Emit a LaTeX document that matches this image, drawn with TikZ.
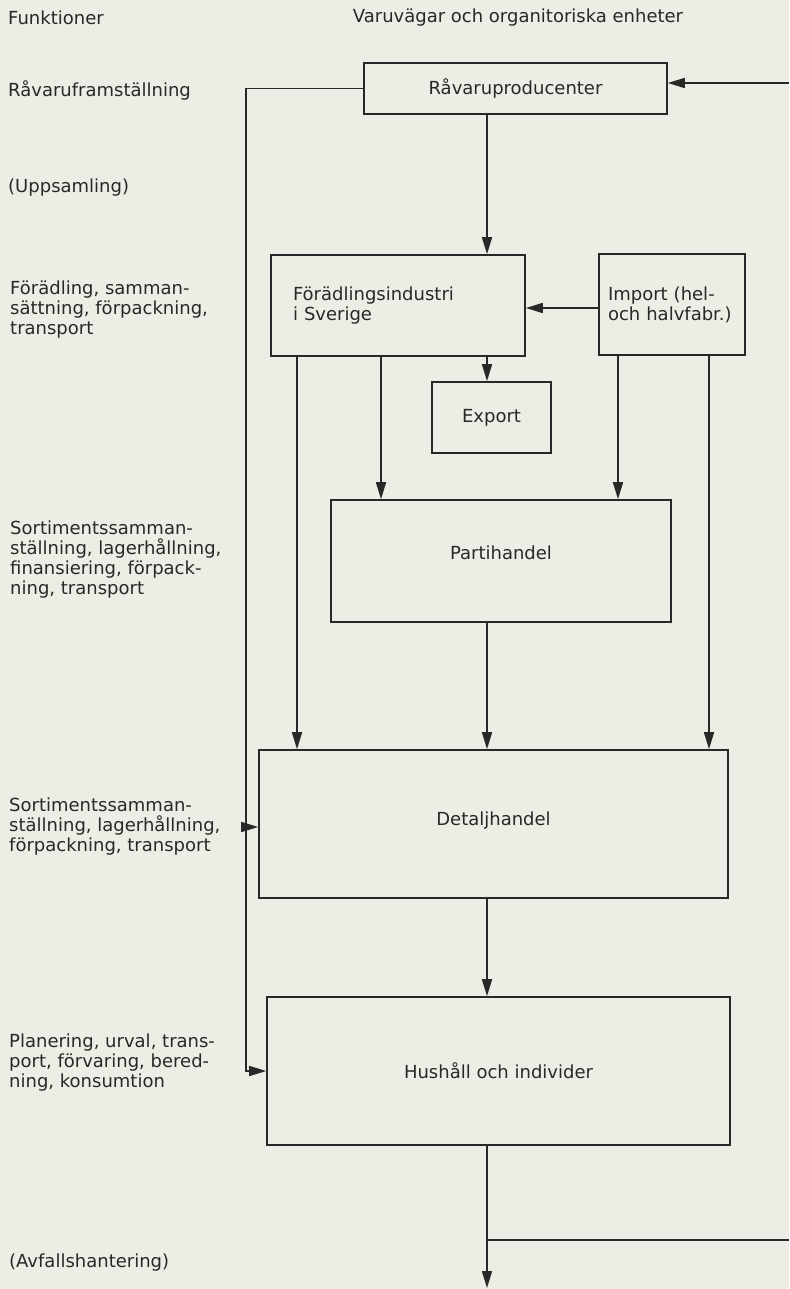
\documentclass[tikz,border=0pt]{standalone}
\usepackage{fontspec}
\setmainfont{DejaVu Sans}
\usetikzlibrary{arrows.meta}
\definecolor{paper}{RGB}{237,237,229}
\definecolor{ink}{RGB}{40,40,40}
\begin{document}
\begin{tikzpicture}[x=1pt,y=-1pt,
  font=\fontsize{18}{20}\selectfont,
  every node/.style={text=ink},
  box/.style={draw=ink, line width=1.6pt, inner sep=0pt},
  conn/.style={draw=ink, line width=1.6pt},
  arr/.style={conn, -{Triangle[length=17pt,width=10pt]}},
  lab/.style={anchor=west, align=left, inner sep=0pt}]
\fill[paper] (0,0) rectangle (789,1289);
\useasboundingbox (0,0) rectangle (789,1289);

% boxes
\node[box, minimum width=303pt, minimum height=51pt] (rp) at (515.5,88.5) {Råvaruproducenter};
\node[box, minimum height=101pt, text width=210pt, inner xsep=22pt, align=left] (fi) at (398,305.5) {Förädlingsindustri\\i Sverige};
\node[box, minimum height=101pt, text width=128pt, inner xsep=9pt, align=left] (im) at (672,304.5) {Import (hel-\\och halvfabr.)};
\node[box, minimum width=119pt, minimum height=71pt] (ex) at (491.5,417.5) {Export};
\node[box, minimum width=339.5pt, minimum height=122pt] (ph) at (501,561) {\raisebox{16pt}{Partihandel}};
\node[box, minimum width=469pt, minimum height=148pt] (dh) at (493.5,824) {\raisebox{10pt}{Detaljhandel}};
\node[box, minimum width=463pt, minimum height=148pt] (hh) at (498.5,1071) {Hushåll och individer};

% labels
\node[lab] (lf) at (8,18) {Funktioner};
\node (lv) at (518,18) {Varuvägar och organitoriska enheter};
\node[lab] (l1) at (8,90) {Råvaruframställning};
\node[lab] (l2) at (8,188) {(Uppsamling)};
\node[lab] (l3) at (10,310) {Förädling, samman-\\sättning, förpackning,\\transport};
\node[lab] (l4) at (10,560) {Sortimentssamman-\\ställning, lagerhållning,\\finansiering, förpack-\\ning, transport};
\node[lab] (l5) at (9,827) {Sortimentssamman-\\ställning, lagerhållning,\\förpackning, transport};
\node[lab] (l6) at (9,1063) {Planering, urval, trans-\\port, förvaring, bered-\\ning, konsumtion};
\node[lab] (l7) at (9,1263) {(Avfallshantering)};

% helper coordinates
\coordinate (xm) at (487,0);
\coordinate (xa) at (381,0);
\coordinate (xb) at (297,0);
\coordinate (xc) at (618,0);
\coordinate (xd) at (709,0);
\coordinate (xl) at (246,0);
\coordinate (yimp) at (0,308);
\coordinate (ydh) at (0,827);
\coordinate (bot) at (487,1288);
\coordinate (recL) at (487,1240);
\coordinate (recR) at (789,1240);
\coordinate (inR) at (789,83);

% connectors
\draw[arr] (rp.south -| xm) -- (fi.north -| xm);
\draw[arr] (fi.south -| xm) -- (ex.north -| xm);
\draw[arr] (im.west |- yimp) -- (fi.east |- yimp);
\draw[arr] (fi.south -| xa) -- (ph.north -| xa);
\draw[arr] (fi.south -| xb) -- (dh.north -| xb);
\draw[arr] (im.south -| xc) -- (ph.north -| xc);
\draw[arr] (im.south -| xd) -- (dh.north -| xd);
\draw[arr] (ph.south -| xm) -- (dh.north -| xm);
\draw[arr] (dh.south -| xm) -- (hh.north -| xm);
\draw[arr] (hh.south -| xm) -- (bot);
\draw[conn] (recL) -- (recR);
\draw[arr] (inR) -- (rp.east |- inR);
\draw[arr] (rp.west) -- (rp.west -| xl) |- (hh.west);
\draw[arr] (xl |- ydh) -- (dh.west |- ydh);
\end{tikzpicture}
\end{document}
